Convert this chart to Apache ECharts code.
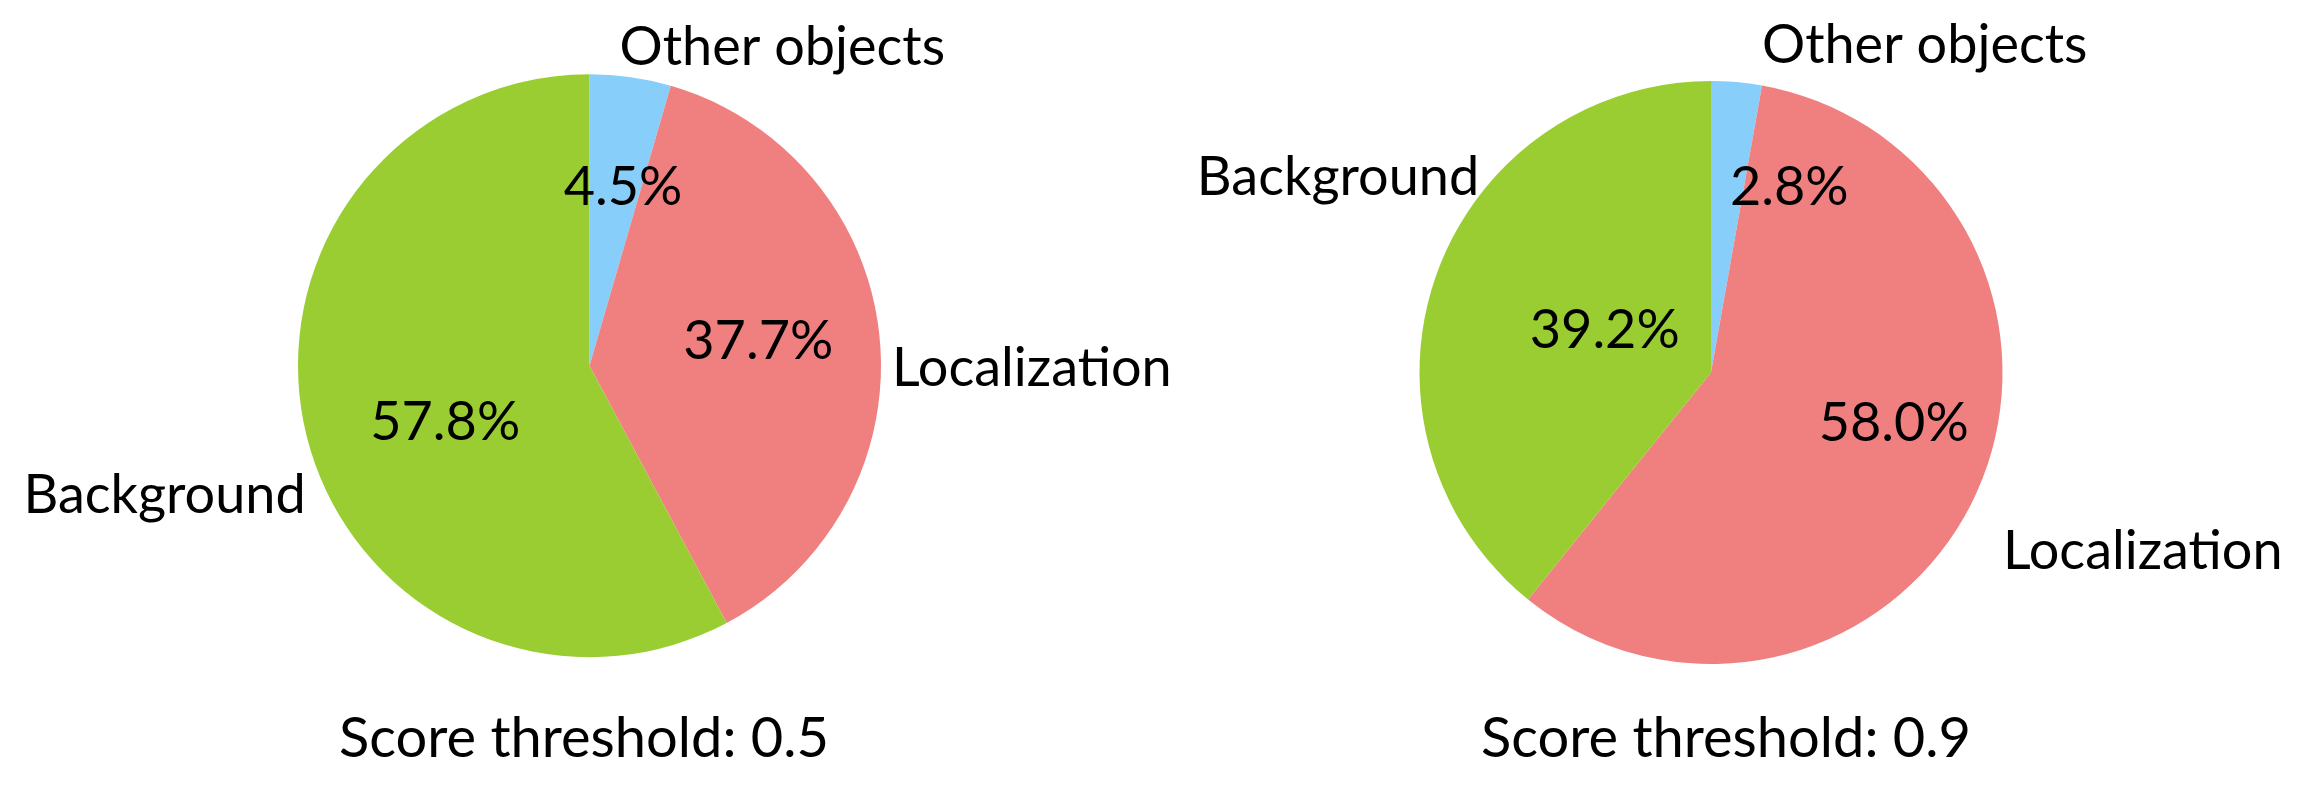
<!DOCTYPE html>
<html>
<head>
<meta charset="utf-8">
<script src="https://cdn.jsdelivr.net/npm/echarts@6/dist/echarts.min.js"></script>
<style>
html,body{margin:0;padding:0;background:#fff;}
#main{width:2306px;height:790px;}
</style>
</head>
<body>
<div id="main"></div>
<script>
// ---- data ----
const categories = ['Other objects', 'Localization', 'Background'];
const valuesThr05 = [4.5, 37.7, 57.8];
const valuesThr09 = [2.8, 58.0, 39.2];
const captions = ['Score threshold: 0.5', 'Score threshold: 0.9'];
const sliceColors = ['#87CEFA', '#F08080', '#9ACD32'];

// ---- layout / style ----
const FONT = 'Lato';
const FS = 54;
const R = 291.5;
const pies = [
  { values: valuesThr05, center: [589.5, 365.7], captionX: 579,
    nameShift: [[-11, -30], [12.6, 33], [-1, 59]],
    pctShift: [[12.5, -30.7], [20.8, -8.7], [0, 21.2]] },
  { values: valuesThr09, center: [1711, 372.5], captionX: 1721,
    nameShift: [[25.4, -37], [26.7, 58.2], [43, -97.5]],
    pctShift: [[65.2, -36.3], [47.3, -10.4], [34, 7.2]] }
];

function items(values, withColor) {
  return categories.map((c, i) => ({
    name: c, value: values[i],
    itemStyle: { color: withColor ? sliceColors[i] : 'rgba(0,0,0,0)' }
  }));
}

const series = [];
pies.forEach(p => {
  series.push({
    type: 'pie', center: p.center, radius: [0, R], startAngle: 90, clockwise: true,
    avoidLabelOverlap: false, silent: true, animation: false,
    data: items(p.values, true),
    label: { show: true, position: 'outside', formatter: '{b}', color: '#000',
             fontFamily: FONT, fontSize: FS, distanceToLabelLine: 0 },
    labelLine: { show: false, length: 0, length2: 0 },
    labelLayout: params => ({ dx: p.nameShift[params.dataIndex][0], dy: p.nameShift[params.dataIndex][1] })
  });
  series.push({
    type: 'pie', center: p.center, radius: [0, R], startAngle: 90, clockwise: true,
    avoidLabelOverlap: false, silent: true, animation: false,
    data: items(p.values, false),
    label: { show: true, position: 'inside', color: '#000', fontFamily: FONT, fontSize: FS,
             formatter: params => params.value.toFixed(1) + '%' },
    labelLine: { show: false },
    labelLayout: params => ({ dx: p.pctShift[params.dataIndex][0], dy: p.pctShift[params.dataIndex][1] })
  });
});

const chart = echarts.init(document.getElementById('main'));
chart.setOption({
  backgroundColor: '#fff',
  animation: false,
  title: captions.map((t, i) => ({
    text: t, left: pies[i].captionX, top: 706, textAlign: 'center',
    textStyle: { fontFamily: FONT, fontSize: 56, fontWeight: 'normal', color: '#000' }
  })),
  series: series
});
</script>
</body>
</html>
